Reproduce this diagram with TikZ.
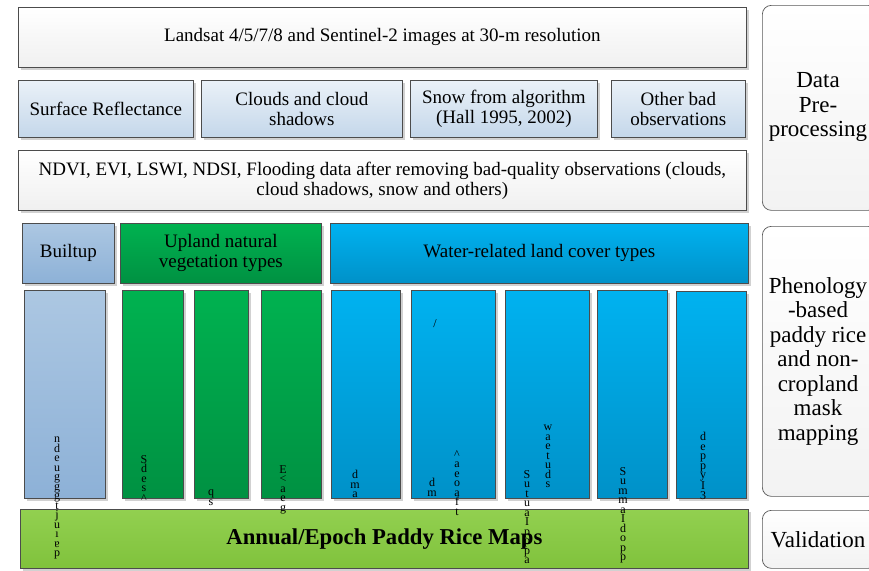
\documentclass[tikz,border=0pt]{standalone}
\usepackage{fontspec}
\setmainfont{Liberation Serif}
\usetikzlibrary{shadows}
\definecolor{paletop}{RGB}{234,241,248}
\definecolor{palebot}{RGB}{196,215,234}
\definecolor{steeltop}{RGB}{172,199,226}
\definecolor{steelbot}{RGB}{141,177,215}
\definecolor{greentop}{RGB}{0,178,80}
\definecolor{greenbot}{RGB}{0,145,66}
\definecolor{cyantop}{RGB}{0,178,240}
\definecolor{cyanbot}{RGB}{0,145,200}
\definecolor{limetop}{RGB}{146,208,80}
\definecolor{limebot}{RGB}{128,194,60}
\tikzset{
  boxbase/.style={draw=black!70, line width=0.7pt, anchor=north west, inner sep=2pt, align=center,
    font=\fontsize{19}{20}\selectfont,
    drop shadow={shadow xshift=3pt, shadow yshift=-3pt, fill=black!18, opacity=1}},
  whitebox/.style={boxbase, top color=white, bottom color=black!6},
  paleblue/.style={boxbase, top color=paletop, bottom color=palebot},
  steelbox/.style={boxbase, top color=steeltop, bottom color=steelbot},
  greenbox/.style={boxbase, top color=greentop, bottom color=greenbot},
  cyanbox/.style={boxbase, top color=cyantop, bottom color=cyanbot},
  limebox/.style={boxbase, top color=limetop, bottom color=limebot},
  sidebox/.style={draw=black!65, line width=0.7pt, rounded corners=9pt, anchor=north west, align=center,
    top color=white, bottom color=black!5},
  sidetext/.style={font=\fontsize{23}{24.5}\selectfont, align=center, inner sep=0pt},
  glyphs/.style={inner sep=0pt, align=center, font=\fontsize{12}{9.5}\selectfont},
}
\begin{document}
\begin{tikzpicture}[x=1pt,y=-1pt]
\useasboundingbox (0,0) rectangle (869,570);
\fill[white] (0,0) rectangle (869,570);
% side boxes
\node[sidebox, minimum width=115pt, minimum height=205pt] (pre) at (762,5) {};
\node[sidetext] (pretxt) at (818,107) {Data\\Pre-\\processing};
\node[sidebox, minimum width=115pt, minimum height=270pt] (phen) at (762,226) {};
\node[sidetext] (phentxt) at (818,361) {Phenology\\-based\\paddy rice\\and non-\\cropland\\mask\\mapping};
\node[sidebox, minimum width=115pt, minimum height=58pt] (val) at (762,510) {};
\node[sidetext] (valtxt) at (818,540) {Validation};
% preprocessing rows
\node[whitebox, minimum width=728pt, minimum height=60pt] (landsat) at (18,7) {Landsat 4/5/7/8 and Sentinel-2 images at 30-m resolution};
\node[paleblue, minimum width=175pt, minimum height=57pt] (sr) at (18,80) {Surface Reflectance};
\node[paleblue, minimum width=201pt, minimum height=57pt] (cl) at (201,80) {Clouds and cloud\\shadows};
\node[paleblue, minimum width=187pt, minimum height=57pt] (sn) at (410,80) {Snow from algorithm\\(Hall 1995, 2002)};
\node[paleblue, minimum width=134pt, minimum height=57pt] (ob) at (611,80) {Other bad\\observations};
\node[whitebox, minimum width=728pt, minimum height=60pt] (ndvi) at (18,150) {NDVI, EVI, LSWI, NDSI, Flooding data after removing bad-quality observations (clouds,\\cloud shadows, snow and others)};
% category headers
\node[steelbox, minimum width=92pt, minimum height=60pt] (bu) at (22,223) {Builtup};
\node[greenbox, minimum width=201pt, minimum height=60pt] (up) at (120,223) {Upland natural\\vegetation types};
\node[cyanbox, minimum width=418pt, minimum height=60pt] (wa) at (330,223) {Water-related land cover types};
% columns
\node[steelbox, minimum width=81pt, minimum height=208pt] (c1) at (24,290) {};
\node[greenbox, minimum width=61pt, minimum height=208pt] (c2) at (122,290) {};
\node[greenbox, minimum width=54pt, minimum height=208pt] (c3) at (194,290) {};
\node[greenbox, minimum width=60pt, minimum height=208pt] (c4) at (261,290) {};
\node[cyanbox, minimum width=69pt, minimum height=208pt] (c5) at (331,290) {};
\node[cyanbox, minimum width=84pt, minimum height=208pt] (c6) at (411,290) {};
\node[cyanbox, minimum width=84pt, minimum height=208pt] (c7) at (505,290) {};
\node[cyanbox, minimum width=70pt, minimum height=208pt] (c8) at (597,290) {};
\node[cyanbox, minimum width=70pt, minimum height=207pt] (c9) at (676,291) {};
% bottom
\node[limebox, minimum width=728pt, minimum height=59pt, font=\fontsize{22.7}{24}\bfseries] (maps) at (20,509) {Annual/Epoch Paddy Rice Maps};
% garbled column labels
\node[glyphs, anchor=north] (g1) at (57,437) {n\\d\\e\\u\\g\\g\\g\\t\\j\\u\\ı\\ɐ\\p};
\node[glyphs, anchor=north] (g2) at (144,455) {S\\d\\e\\s\\[1pt]\textasciicircum};
\node[glyphs, anchor=north] (g3) at (211,490) {q\\s};
\node[glyphs, anchor=north] (g4) at (283,465) {E\\<\\a\\e\\g};
\node[glyphs, anchor=north] (g5) at (355,470) {d\\m\\a};
\node[glyphs, anchor=center] (g6a) at (435,324) {/};
\node[glyphs, anchor=north] (g6b) at (432,478) {d\\m};
\node[glyphs, anchor=north] (g6c) at (457,450) {\textasciicircum\\a\\e\\o\\a\\f\\t};
\node[glyphs, anchor=north] (g7a) at (527,470) {S\\u\\t\\u\\a\\I\\p\\p\\p\\a};
\node[glyphs, anchor=north] (g7b) at (548,425) {w\\a\\e\\t\\u\\d\\s};
\node[glyphs, anchor=north] (g8) at (623,467) {S\\u\\m\\m\\a\\I\\d\\o\\p\\p};
\node[glyphs, anchor=north] (g9) at (703,432) {d\\e\\p\\p\\y\\I\\3};
\end{tikzpicture}
\end{document}
